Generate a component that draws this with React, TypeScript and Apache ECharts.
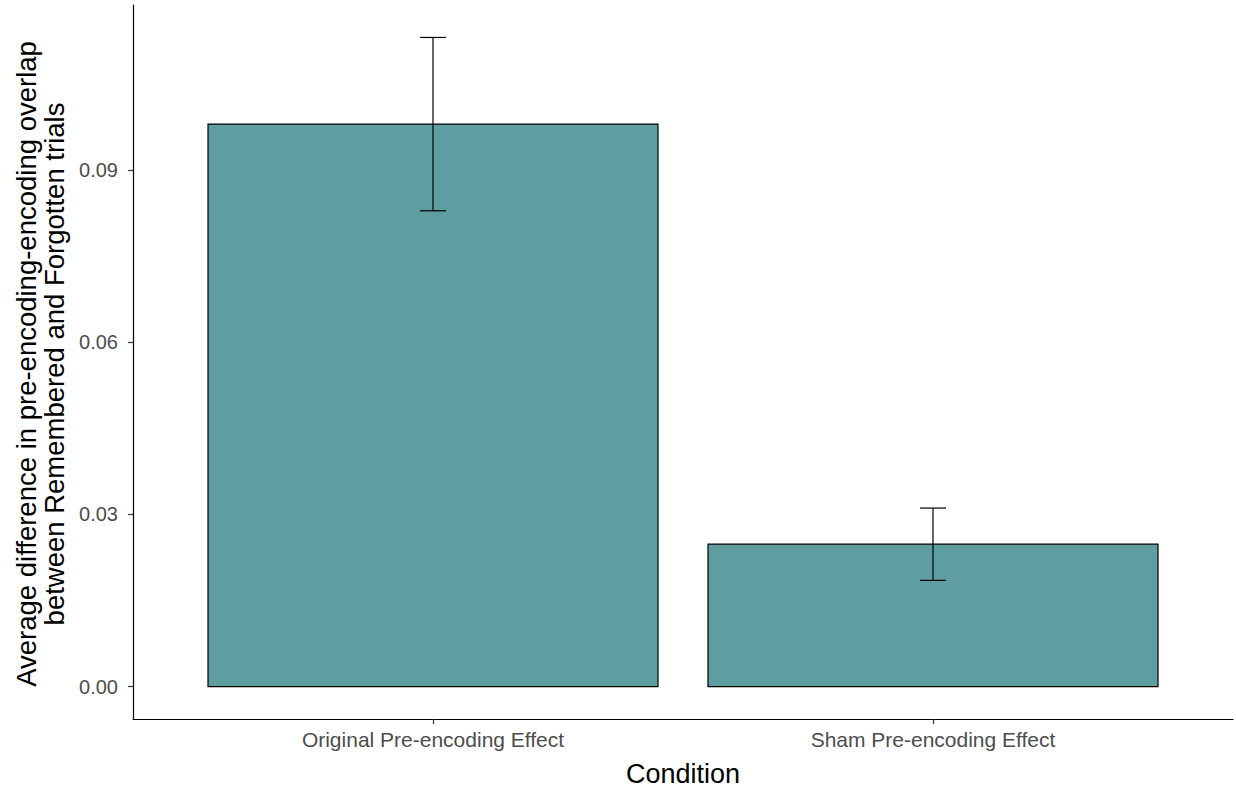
import React, { useEffect, useRef } from "react";
import * as echarts from "echarts";

const conditions = ["Original Pre-encoding Effect", "Sham Pre-encoding Effect"];
const meanDiff = [0.098, 0.0248];
const stdErr = [0.0151, 0.0063];
const yTicks = [0, 0.03, 0.06, 0.09];

const FILL = "#5F9EA0";
const FONT = "'Liberation Sans', Arial, sans-serif";

export default function App() {
  const ref = useRef<HTMLDivElement>(null);

  useEffect(() => {
    if (!ref.current) return;
    const chart = echarts.init(ref.current, undefined, { renderer: "svg" });

    const positions = conditions.map((_, i) => i + 1);
    const hi = Math.max(...meanDiff.map((m, i) => m + stdErr[i]));
    const pad = hi * 0.05;

    const barData = positions.map((p, i) => [p, meanDiff[i]]);
    const errData = positions.map((p, i) => [p, meanDiff[i] - stdErr[i], meanDiff[i] + stdErr[i]]);

    chart.setOption({
      animation: false,
      grid: { left: 133, top: 5, width: 1100, height: 714, containLabel: false },
      xAxis: {
        type: "value",
        min: 0.4,
        max: 2.6,
        splitLine: { show: false },
        axisLine: { show: true, onZero: false, lineStyle: { color: "#000", width: 1.2 } },
        axisTick: { show: true, customValues: positions, length: 5, lineStyle: { color: "#333", width: 1.2 } },
        axisLabel: {
          customValues: positions,
          formatter: (v: number) => conditions[Math.round(v) - 1] ?? "",
          color: "#4D4D4D",
          fontSize: 21,
          fontFamily: FONT,
          margin: 10,
        },
      },
      yAxis: {
        type: "value",
        min: -pad,
        max: hi + pad,
        splitLine: { show: false },
        axisLine: { show: true, onZero: false, lineStyle: { color: "#000", width: 1.2 } },
        axisTick: { show: true, customValues: yTicks, length: 5, lineStyle: { color: "#333", width: 1.2 } },
        axisLabel: {
          customValues: yTicks,
          formatter: (v: number) => v.toFixed(2),
          color: "#4D4D4D",
          fontSize: 20,
          fontFamily: FONT,
          margin: 15,
        },
      },
      graphic: [
        {
          type: "text",
          x: 40,
          y: 364,
          rotation: Math.PI / 2,
          style: {
            text: "Average difference in pre-encoding-encoding overlap\nbetween Remembered and Forgotten trials",
            fill: "#000",
            fontSize: 27.5,
            lineHeight: 28,
            fontFamily: FONT,
            align: "center",
            verticalAlign: "middle",
          },
        },
        {
          type: "text",
          x: 683,
          y: 774,
          style: {
            text: "Condition",
            fill: "#000",
            fontSize: 27,
            fontFamily: FONT,
            align: "center",
            verticalAlign: "middle",
          },
        },
      ],
      series: [
        {
          type: "custom",
          data: barData,
          renderItem: (_params: any, api: any) => {
            const x = api.value(0);
            const y = api.value(1);
            const tl = api.coord([x - 0.45, y]);
            const br = api.coord([x + 0.45, 0]);
            return {
              type: "rect",
              shape: { x: tl[0], y: tl[1], width: br[0] - tl[0], height: br[1] - tl[1] },
              style: { fill: FILL, stroke: "#000", lineWidth: 1.2 },
            };
          },
        },
        {
          type: "custom",
          data: errData,
          z: 3,
          renderItem: (_params: any, api: any) => {
            const x = api.value(0);
            const lo = api.coord([x, api.value(1)]);
            const up = api.coord([x, api.value(2)]);
            const l = api.coord([x - 0.026, 0])[0];
            const r = api.coord([x + 0.026, 0])[0];
            const st = { stroke: "#000", lineWidth: 1.2 };
            return {
              type: "group",
              children: [
                { type: "line", shape: { x1: lo[0], y1: lo[1], x2: up[0], y2: up[1] }, style: st },
                { type: "line", shape: { x1: l, y1: up[1], x2: r, y2: up[1] }, style: st },
                { type: "line", shape: { x1: l, y1: lo[1], x2: r, y2: lo[1] }, style: st },
              ],
            };
          },
        },
      ],
    });

    return () => chart.dispose();
  }, []);

  return (
    <div
      ref={ref}
      style={{ position: "fixed", left: 0, top: 0, width: 1236, height: 788, background: "#fff" }}
    />
  );
}
